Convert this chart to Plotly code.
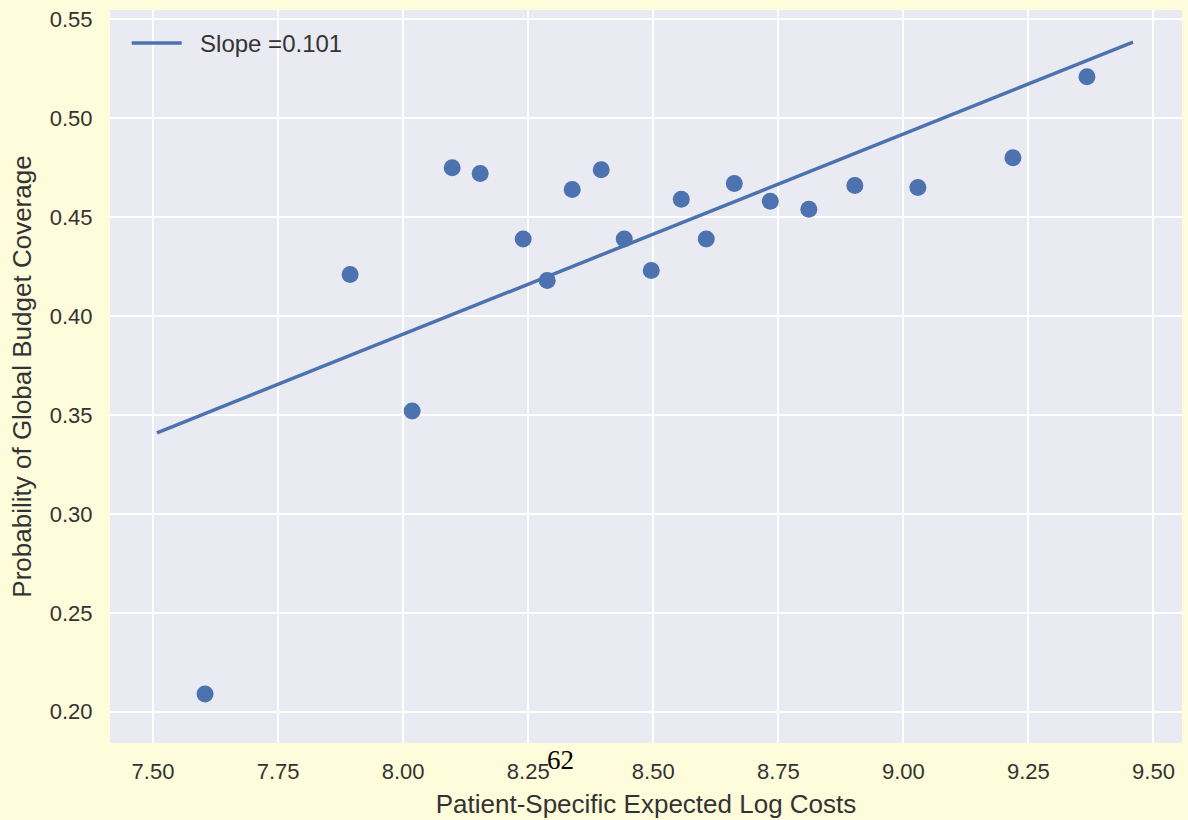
import plotly.graph_objects as go

# Data
cost_x = [7.604, 7.894, 8.018, 8.098, 8.154, 8.240, 8.288, 8.338, 8.396, 8.442,
          8.496, 8.556, 8.606, 8.662, 8.734, 8.811, 8.903, 9.029, 9.219, 9.367]
coverage_y = [0.209, 0.421, 0.352, 0.475, 0.472, 0.439, 0.418, 0.464, 0.474, 0.439,
              0.423, 0.459, 0.439, 0.467, 0.458, 0.454, 0.466, 0.465, 0.480, 0.521]
fit_x = [7.508, 9.459]
fit_y = [0.341, 0.5385]
slope_label = "Slope =0.101"
x_ticks = [7.50, 7.75, 8.00, 8.25, 8.50, 8.75, 9.00, 9.25, 9.50]
y_ticks = [0.20, 0.25, 0.30, 0.35, 0.40, 0.45, 0.50, 0.55]

BLUE = "#4C72B0"
TXT = "#333333"
PAPER = "#FFFCDB"
FONT = "Liberation Sans, Arial, sans-serif"

fig = go.Figure()
fig.add_trace(go.Scatter(x=fit_x, y=fit_y, mode="lines",
                         name="\u00a0\u00a0" + slope_label,
                         line=dict(color=BLUE, width=3.5)))
fig.add_trace(go.Scatter(x=cost_x, y=coverage_y, mode="markers", showlegend=False,
                         marker=dict(color=BLUE, size=17, line=dict(width=0))))

fig.update_layout(
    width=1188, height=820,
    margin=dict(l=110, r=6, t=10, b=77),
    paper_bgcolor=PAPER,
    plot_bgcolor="#EAEAF2",
    font=dict(family=FONT, size=22, color=TXT),
    showlegend=True,
    legend=dict(x=0.0156, y=0.985, xanchor="left", yanchor="top",
                bgcolor="rgba(0,0,0,0)", borderwidth=0,
                font=dict(size=24, color=TXT), itemwidth=50),
    xaxis=dict(range=[7.414, 9.557], tickvals=x_ticks,
               ticktext=[f"{v:.2f}" for v in x_ticks],
               showgrid=True, gridcolor="white", gridwidth=2,
               zeroline=False, showline=False,
               ticks="outside", ticklen=9, tickcolor="rgba(0,0,0,0)",
               title=dict(text="Patient-Specific Expected Log Costs",
                          font=dict(size=26, color=TXT), standoff=11)),
    yaxis=dict(range=[0.1842, 0.5547], tickvals=y_ticks,
               ticktext=[f"{v:.2f}" for v in y_ticks],
               showgrid=True, gridcolor="white", gridwidth=2,
               zeroline=False, showline=False,
               ticks="outside", ticklen=12, tickcolor="rgba(0,0,0,0)",
               title=dict(text="Probability of Global Budget Coverage",
                          font=dict(size=26, color=TXT), standoff=10)),
)

fig.add_annotation(text="62", xref="paper", yref="paper", x=0.4198, y=-0.0232,
                   xanchor="center", yanchor="middle", showarrow=False,
                   font=dict(family="Liberation Serif, Times New Roman, serif",
                             size=27, color="black"))

fig.write_html(
    "out.html",
    config={"displayModeBar": False},
    post_script="document.body.style.margin='0';"
                "document.body.style.background='" + PAPER + "';",
)
